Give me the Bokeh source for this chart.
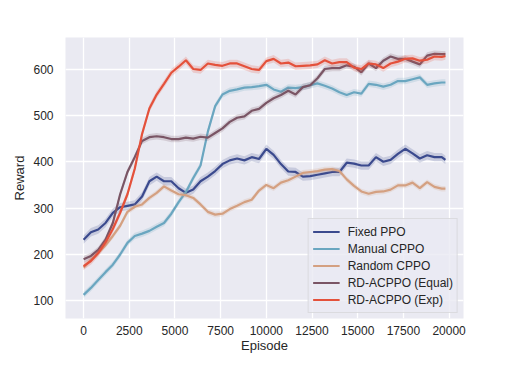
from bokeh.plotting import figure
from bokeh.models import ColumnDataSource, Range1d, FixedTicker, Legend, LegendItem
from bokeh.embed import file_html
from bokeh.resources import INLINE

episodes = [0, 400, 800, 1200, 1600, 2000, 2400, 2800, 3200, 3600, 4000, 4400, 4800,
            5200, 5600, 6000, 6400, 6800, 7200, 7600, 8000, 8400, 8800, 9200, 9600,
            10000, 10400, 10800, 11200, 11600, 12000, 12400, 12800, 13200, 13600,
            14000, 14400, 14800, 15200, 15600, 16000, 16400, 16800, 17200, 17600,
            18000, 18400, 18800, 19200, 19600, 19800]

fixed_ppo = [232, 248, 254, 268, 290, 302, 305, 308, 325, 358, 368, 358, 358,
             343, 333, 340, 358, 368, 380, 395, 403, 407, 403, 410, 406,
             428, 415, 395, 379, 378, 368, 369, 372, 375, 378,
             378, 398, 396, 392, 392, 410, 400, 404, 417, 428,
             418, 407, 414, 410, 410, 404]

manual_cppo = [113, 128, 145, 162, 178, 200, 225, 240, 245, 251, 260, 268, 288,
               313, 335, 365, 392, 465, 520, 545, 553, 556, 560, 561, 563,
               566, 556, 551, 560, 559, 561, 565, 569, 564, 558,
               550, 544, 550, 547, 568, 566, 562, 566, 574, 574,
               578, 582, 566, 569, 571, 571]

random_cppo = [172, 188, 203, 220, 240, 262, 292, 303, 308, 322, 333, 347, 338,
               330, 328, 322, 308, 292, 286, 288, 298, 305, 313, 318, 338,
               350, 343, 355, 360, 368, 376, 378, 380, 383, 384,
               380, 362, 348, 336, 331, 335, 336, 340, 349, 349,
               355, 343, 356, 346, 342, 342]

rd_equal = [190, 197, 210, 232, 268, 330, 378, 410, 445, 453, 455, 453, 449,
            449, 452, 450, 454, 452, 462, 472, 486, 495, 498, 510, 514,
            527, 537, 544, 553, 545, 561, 565, 580, 600, 602,
            602, 608, 605, 593, 612, 602, 618, 627, 622, 622,
            616, 610, 629, 633, 632, 632]

rd_exp = [175, 186, 203, 226, 255, 290, 330, 385, 460, 515, 545, 568, 592,
          605, 619, 600, 598, 612, 609, 607, 612, 612, 606, 600, 598,
          617, 622, 612, 614, 606, 607, 608, 610, 619, 612,
          615, 615, 603, 600, 612, 610, 602, 612, 616, 622,
          623, 618, 620, 627, 626, 628]

series_names = ["Fixed PPO", "Manual CPPO", "Random CPPO", "RD-ACPPO (Equal)", "RD-ACPPO (Exp)"]
series_values = [fixed_ppo, manual_cppo, random_cppo, rd_equal, rd_exp]
series_spread = [9, 7, 6, 7, 8]
colors = ["#3b4a8e", "#6aa6c0", "#d4a081", "#7a5565", "#e4513b"]

x_ticks = [0, 2500, 5000, 7500, 10000, 12500, 15000, 17500, 20000]
y_ticks = [100, 200, 300, 400, 500, 600]

FONT = "Liberation Sans"
TXT = "#262626"

p = figure(width=499, height=355, output_backend="svg", toolbar_location=None,
           x_range=Range1d(-990, 20790), y_range=Range1d(62, 668),
           min_border_left=65, min_border_right=36, min_border_top=37, min_border_bottom=10)
p.background_fill_color = "#eaeaf2"
p.border_fill_color = "white"
p.outline_line_color = None

for ax in (p.xaxis[0], p.yaxis[0]):
    ax.axis_line_color = None
    ax.major_tick_line_color = None
    ax.minor_tick_line_color = None
    ax.major_tick_out = 0
    ax.major_tick_in = 0
    ax.minor_tick_out = 0
    ax.minor_tick_in = 0
    ax.major_label_text_font = FONT
    ax.major_label_text_font_size = "12px"
    ax.major_label_text_color = TXT
    ax.axis_label_text_font = FONT
    ax.axis_label_text_font_size = "13px"
    ax.axis_label_text_font_style = "normal"
    ax.axis_label_text_color = TXT

p.xaxis[0].ticker = FixedTicker(ticks=x_ticks)
p.yaxis[0].ticker = FixedTicker(ticks=y_ticks)
p.xaxis[0].axis_label = "Episode"
p.yaxis[0].axis_label = "Reward"
p.xaxis[0].major_label_standoff = 7
p.yaxis[0].major_label_standoff = 12
p.xaxis[0].axis_label_standoff = 0
p.yaxis[0].axis_label_standoff = 3

p.xgrid.grid_line_color = "white"
p.ygrid.grid_line_color = "white"
p.xgrid.grid_line_width = 1.3
p.ygrid.grid_line_width = 1.3

items = []
for name, vals, spread, col in zip(series_names, series_values, series_spread, colors):
    src = ColumnDataSource(dict(
        x=episodes, y=vals,
        lo=[v - spread for v in vals], hi=[v + spread for v in vals]))
    p.varea(x="x", y1="lo", y2="hi", source=src, fill_color=col, fill_alpha=0.2)
    r = p.line(x="x", y="y", source=src, line_color=col, line_width=2.2)
    items.append(LegendItem(label=name, renderers=[r]))

legend = Legend(items=items, location="bottom_right")
legend.label_text_font = FONT
legend.label_text_font_size = "12px"
legend.label_text_color = TXT
legend.glyph_width = 27
legend.glyph_height = 17
legend.label_height = 17
legend.label_standoff = 8
legend.spacing = 0
legend.padding = 4
legend.margin = 5
legend.background_fill_color = "#eaeaf2"
legend.background_fill_alpha = 0.8
legend.border_line_color = "#cccccc"
legend.border_line_width = 1
p.add_layout(legend)

open("out.html", "w").write(file_html(p, INLINE))
